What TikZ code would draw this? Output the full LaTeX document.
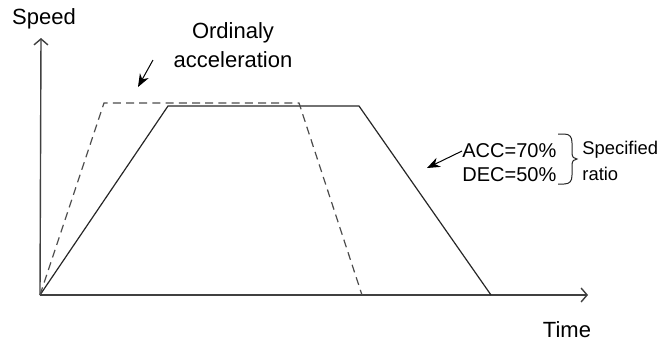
\documentclass[tikz,border=0pt]{standalone}
\usepackage{fontspec}
\setmainfont{Liberation Sans}
\usetikzlibrary{positioning,arrows.meta,calc}
\tikzset{
  axis/.style={draw=black!75, line width=0.7pt, -{Straight Barb[length=3pt,width=7pt]}},
  profile/.style={draw=black!85, line width=0.6pt, line join=miter},
  ordinary/.style={draw=black!70, line width=0.6pt, dash pattern=on 4pt off 2.6pt},
  pointer/.style={draw=black, line width=0.5pt, -{Stealth[length=6.5pt,width=5pt]}},
  ratiobrace/.style={draw=black!85, line width=0.5pt},
  biglabel/.style={inner sep=0pt, font=\fontsize{11}{14.5}\selectfont},
  ratiolabel/.style={inner sep=0pt, anchor=west, font=\fontsize{10}{12}\selectfont},
  smalllabel/.style={inner sep=0pt, anchor=west, font=\fontsize{9.2}{12}\selectfont}
}

\begin{document}
\begin{tikzpicture}[x=0.5pt,y=0.5pt]
    \useasboundingbox (-40,-50) rectangle (623,295);

    % axes
    \coordinate (o) at (0,0);
    \coordinate (ytip) at (1,257);
    \coordinate (xtip) at (548,0);
    \node[biglabel] (speed) at (4,276) {Speed};
    \node[biglabel] (time) at (527,-35) {Time};

    \draw[axis] (o) -- (ytip);
    \draw[axis] (o) -- (xtip);

    % specified ratio profile
    \coordinate (s1) at (128,189);
    \coordinate (s2) at (319,189);
    \coordinate (s3) at (451,0);
    \draw[profile] (o) -- (s1) -- (s2) -- (s3);

    % ordinary acceleration profile
    \coordinate (d1) at (64,192);
    \coordinate (d2) at (259,192);
    \coordinate (d3) at (322,0);
    \draw[ordinary] (o) -- (d1) -- (d2) -- (d3);

    % labels
    \node[biglabel, align=center] (ordacc) at (193,250) {Ordinaly\\acceleration};
    \coordinate (ordtail) at (113,235);
    \coordinate (ordtip) at (98,208);
    \draw[pointer] (ordtail) -- (ordtip);

    \node[ratiolabel] (acc) at (422,144) {ACC=70\%};
    \node[ratiolabel] (dec) at (422,120) {DEC=50\%};
    \coordinate (acctip) at (387,127);
    \draw[pointer] (acc.west) -- (acctip);

    \coordinate (bt) at (518,161);
    \coordinate (bb) at (518,111);
    \draw[ratiobrace] (bt) -- ++(6,0) .. controls +(6,0) and +(0,6) .. ++(8,-9)
      -- ++(0,-10) .. controls +(0,-4) and +(-3,0) .. ++(5,-6)
      .. controls +(-3,0) and +(0,4) .. ++(-5,-6)
      -- ++(0,-10) .. controls +(0,-6) and +(6,0) .. ++(-8,-9) -- (bb);

    \node[smalllabel] (spec) at (542,145) {Specified};
    \node[smalllabel] (ratio) at (542,121) {ratio};
\end{tikzpicture}
\end{document}
